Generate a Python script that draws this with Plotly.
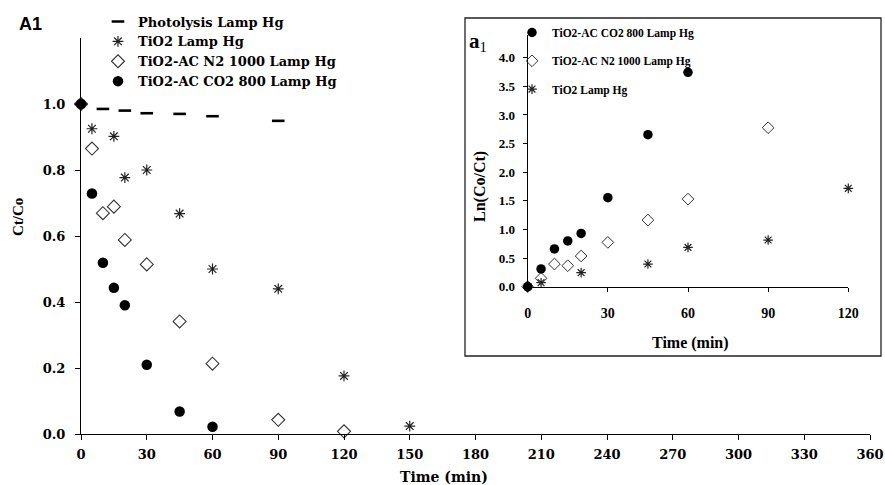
import plotly.graph_objects as go

# ---------------- data: main panel (Ct/Co) ----------------
t_photo = [0, 10, 20, 30, 45, 60, 90]
c_photo = [1.0, 0.985, 0.980, 0.972, 0.970, 0.963, 0.949]

t_tio2 = [0, 5, 15, 20, 30, 45, 60, 90, 120, 150]
c_tio2 = [1.0, 0.925, 0.902, 0.777, 0.80, 0.668, 0.50, 0.44, 0.176, 0.024]

t_n2 = [0, 5, 10, 15, 20, 30, 45, 60, 90, 120]
c_n2 = [1.0, 0.865, 0.669, 0.689, 0.588, 0.514, 0.341, 0.213, 0.043, 0.008]

t_co2 = [0, 5, 10, 15, 20, 30, 45, 60]
c_co2 = [1.0, 0.729, 0.519, 0.443, 0.39, 0.21, 0.068, 0.022]

# ---------------- data: inset (Ln(Co/Ct)) ----------------
ti_co2 = [0, 5, 10, 15, 20, 30, 45, 60]
ln_co2 = [0.0, 0.31, 0.66, 0.80, 0.93, 1.555, 2.655, 3.744]

ti_n2 = [0, 5, 10, 15, 20, 30, 45, 60, 90]
ln_n2 = [0.0, 0.146, 0.396, 0.367, 0.536, 0.774, 1.164, 1.531, 2.777]

ti_tio2 = [0, 5, 20, 45, 60, 90, 120]
ln_tio2 = [0.0, 0.07, 0.245, 0.396, 0.687, 0.815, 1.718]

main_xticks = list(range(0, 361, 30))
main_yticks = [0.0, 0.2, 0.4, 0.6, 0.8, 1.0]
inset_xticks = [0, 30, 60, 90, 120]
inset_yticks = [0.0, 0.5, 1.0, 1.5, 2.0, 2.5, 3.0, 3.5, 4.0]

# ---------------- layout helpers (pixel -> paper) ----------------
W, H = 885, 485
ML, MR, MT, MB = 81, 15, 10, 51
PW, PH = W - ML - MR, H - MT - MB


def px(x):
    return (x - ML) / PW


def py(y):
    return (H - MB - y) / PH


SERIF = "Liberation Serif"
WIDE = "DejaVu Serif"
BLACK = "#000000"

fig = go.Figure()

# main traces
fig.add_trace(go.Scatter(
    x=t_photo, y=c_photo, mode="markers", name="Photolysis Lamp Hg",
    marker=dict(symbol="line-ew-open", size=9, color=BLACK, line=dict(width=2.6, color=BLACK)),
    legend="legend", cliponaxis=False))
fig.add_trace(go.Scatter(
    x=t_tio2, y=c_tio2, mode="markers", name="TiO2 Lamp Hg",
    marker=dict(symbol="asterisk-open", size=9, color="#222222", line=dict(width=1.2, color="#222222")),
    legend="legend", cliponaxis=False))
fig.add_trace(go.Scatter(
    x=t_n2, y=c_n2, mode="markers", name="TiO2-AC N2 1000 Lamp Hg",
    marker=dict(symbol="diamond-open", size=10, color="#333333", line=dict(width=1.1, color="#333333")),
    legend="legend", cliponaxis=False))
fig.add_trace(go.Scatter(
    x=t_co2, y=c_co2, mode="markers", name="TiO2-AC CO2 800 Lamp Hg",
    marker=dict(symbol="circle", size=10.5, color=BLACK),
    legend="legend", cliponaxis=False))

# inset traces
fig.add_trace(go.Scatter(
    x=ti_tio2, y=ln_tio2, mode="markers", name="TiO2 Lamp Hg",
    marker=dict(symbol="asterisk-open", size=8, color="#222222", line=dict(width=1.2, color="#222222")),
    xaxis="x2", yaxis="y2", legend="legend2", legendrank=3, legendgroup="c", cliponaxis=False))
fig.add_trace(go.Scatter(
    x=ti_n2, y=ln_n2, mode="markers", name="TiO2-AC N2 1000 Lamp Hg",
    marker=dict(symbol="diamond-open", size=9, color="#333333", line=dict(width=1, color="#333333")),
    xaxis="x2", yaxis="y2", legend="legend2", legendrank=2, legendgroup="b", cliponaxis=False))
fig.add_trace(go.Scatter(
    x=ti_co2, y=ln_co2, mode="markers", name="TiO2-AC CO2 800 Lamp Hg",
    marker=dict(symbol="circle", size=9.5, color=BLACK),
    xaxis="x2", yaxis="y2", legend="legend2", legendrank=1, legendgroup="a", cliponaxis=False))

axis_common = dict(showline=True, linecolor=BLACK, linewidth=1, showgrid=False, zeroline=False,
                   ticks="outside", ticklen=5, tickcolor=BLACK, mirror=False, automargin=False)

fig.update_layout(
    width=W, height=H,
    margin=dict(l=ML, r=MR, t=MT, b=MB, autoexpand=False),
    paper_bgcolor="white", plot_bgcolor="rgba(0,0,0,0)",
    font=dict(family=SERIF, color=BLACK),
    xaxis=dict(axis_common, range=[0, 360], tickvals=main_xticks,
               ticktext=[f"<b>{v}</b>" for v in main_xticks], domain=[0, 1],
               ticklabelstandoff=3,
               tickfont=dict(family=WIDE, size=13, color=BLACK)),
    yaxis=dict(axis_common, range=[0, 1.2], tickvals=main_yticks,
               ticktext=[f"<b>{v:.1f}</b>" for v in main_yticks],
               ticklabelstandoff=7,
               domain=[0, py(38)], tickfont=dict(family=WIDE, size=13, color=BLACK)),
    xaxis2=dict(axis_common, range=[0, 120], tickvals=inset_xticks,
                ticktext=[f"<b>{v}</b>" for v in inset_xticks],
                ticklabelstandoff=9,
                domain=[px(527.7), px(848.3)], anchor="y2", ticklen=4,
                tickfont=dict(family=SERIF, size=14, color=BLACK)),
    yaxis2=dict(axis_common, range=[0, 4.4], tickvals=inset_yticks,
                ticktext=[f"<b>{v:.1f}</b>" for v in inset_yticks],
                ticklabelstandoff=5,
                domain=[py(286.7), py(34.8)], anchor="x2", ticklen=4,
                tickfont=dict(family=SERIF, size=13, color=BLACK)),
    legend=dict(x=px(98), y=py(6.5), xanchor="left", yanchor="top",
                bgcolor="rgba(0,0,0,0)", borderwidth=0, itemwidth=30,
                font=dict(family=WIDE, size=13, color=BLACK), traceorder="normal"),
    legend2=dict(x=px(512), y=py(18), xanchor="left", yanchor="top",
                 bgcolor="rgba(0,0,0,0)", borderwidth=0, itemwidth=30,
                 font=dict(family=SERIF, size=11.5, color=BLACK), tracegroupgap=9.3,
                 traceorder="grouped"),
    showlegend=True,
)

# legend names bold
for tr in fig.data:
    tr.name = f"<b>{tr.name}</b>"

# inset frame
fig.add_shape(type="rect", xref="paper", yref="paper",
              x0=px(465), x1=px(881), y0=py(356), y1=py(18),
              line=dict(color="#222222", width=1.3), fillcolor="rgba(0,0,0,0)", layer="below")

ann = [
    dict(text="<b>A1</b>", x=px(31), y=py(24), font=dict(family="Liberation Sans", size=18)),
    dict(text="<b>a</b><sub>1</sub>", x=px(478), y=py(42), font=dict(family=SERIF, size=21)),
    dict(text="<b>Ct/Co</b>", x=px(18), y=py(217), textangle=-90, font=dict(family=SERIF, size=15)),
    dict(text="<b>Time (min)</b>", x=px(444), y=py(477), font=dict(family=WIDE, size=14)),
    dict(text="<b>Time (min)</b>", x=px(690), y=py(343), font=dict(family=SERIF, size=16)),
    dict(text="<b>Ln(Co/Ct)</b>", x=px(480), y=py(187), textangle=-90, font=dict(family=SERIF, size=16)),
]
for a in ann:
    fig.add_annotation(xref="paper", yref="paper", showarrow=False, xanchor="center", yanchor="middle",
                       font_color=BLACK, **a)

fig.write_html("out.html")
